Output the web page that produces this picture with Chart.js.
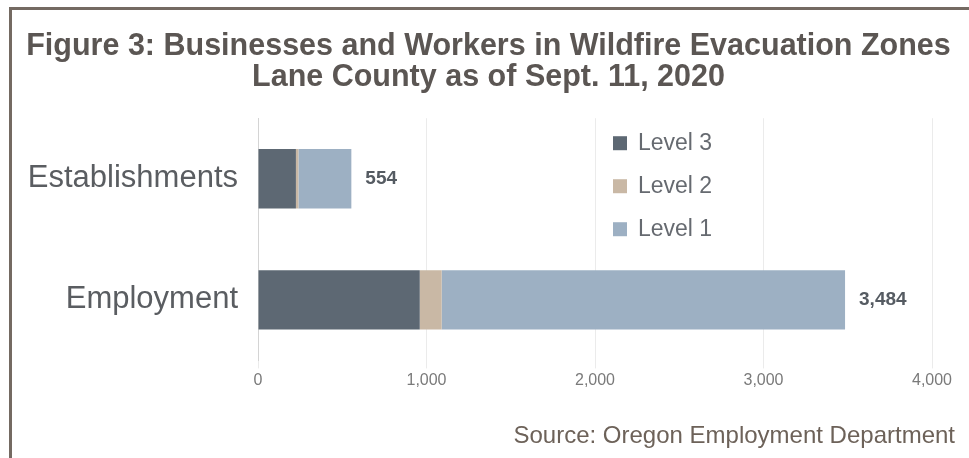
<!DOCTYPE html>
<html>
<head>
<meta charset="utf-8">
<script src="https://cdn.jsdelivr.net/npm/chart.js@4"></script>
<style>
  body { margin: 0; background: #fff; }
  #wrap { position: relative; width: 969px; height: 458px; }
  #frame {
    position: absolute; left: 9px; top: 7px; right: 0; bottom: 0;
    border-top: 3px solid #746a62; border-left: 3px solid #746a62;
    pointer-events: none;
  }
</style>
</head>
<body>
<div id="wrap">
  <canvas id="evacChart" width="969" height="458"></canvas>
  <div id="frame"></div>
</div>
<script>
  const categories = ["Establishments", "Employment"];
  const level3 = [225, 960];
  const level2 = [15, 130];
  const level1 = [314, 2394];
  const xTicks = [0, 1000, 2000, 3000, 4000];

  const FONT = "'Liberation Sans', Arial, sans-serif";

  // total at the end of each stacked bar
  const totalLabels = {
    id: "totalLabels",
    afterDatasetsDraw(chart) {
      const ctx = chart.ctx;
      const last = chart.getDatasetMeta(chart.data.datasets.length - 1);
      ctx.save();
      ctx.font = "bold 19px " + FONT;
      ctx.fillStyle = "#555b62";
      ctx.textAlign = "left";
      ctx.textBaseline = "middle";
      categories.forEach((c, i) => {
        const total = chart.data.datasets.reduce((s, d) => s + d.data[i], 0);
        const bar = last.data[i];
        ctx.fillText(total.toLocaleString("en-US"), bar.x + 14, bar.y);
      });
      ctx.restore();
    },
  };

  // legend sits inside the plot, stacked vertically
  const innerLegend = {
    id: "innerLegend",
    afterDraw(chart) {
      const ctx = chart.ctx;
      const area = chart.chartArea;
      const x = area.left + 355;
      let y = area.top + 25;
      ctx.save();
      ctx.font = "23px " + FONT;
      ctx.textBaseline = "middle";
      chart.data.datasets.forEach((d) => {
        ctx.fillStyle = d.backgroundColor;
        ctx.fillRect(x, y - 7, 14, 14);
        ctx.fillStyle = "#666a70";
        ctx.fillText(d.label, x + 25, y);
        y += 43;
      });
      ctx.restore();
    },
  };

  const ctx = document.getElementById("evacChart").getContext("2d");
  new Chart(ctx, {
    type: "bar",
    data: {
      labels: categories,
      datasets: [
        { label: "Level 3", data: level3, backgroundColor: "#5d6873" },
        { label: "Level 2", data: level2, backgroundColor: "#c9b8a5" },
        { label: "Level 1", data: level1, backgroundColor: "#9db0c3" },
      ],
    },
    options: {
      indexAxis: "y",
      responsive: false,
      animation: false,
      layout: { padding: { left: 22, right: 14, top: 0, bottom: 0 } },
      datasets: {
        bar: { categoryPercentage: 0.5, barPercentage: 0.98 },
      },
      scales: {
        x: {
          stacked: true,
          min: 0,
          max: 4000,
          afterBuildTicks(scale) {
            scale.ticks = xTicks.map((v) => ({ value: v }));
          },
          afterFit(scale) {
            scale.paddingRight = 37;
          },
          ticks: {
            font: { family: FONT, size: 16 },
            color: "#7a7a7a",
            padding: 3,
            callback: (v) => v.toLocaleString("en-US"),
          },
          grid: { color: "#ebebeb", tickLength: 8 },
          border: { display: false },
        },
        y: {
          stacked: true,
          afterFit(scale) {
            scale.width = 236;
          },
          ticks: {
            font: { family: FONT, size: 31 },
            color: "#5a5d61",
            padding: 20,
          },
          grid: { display: false, drawTicks: false },
          border: { display: true, color: "#d4d4d4", width: 1 },
        },
      },
      plugins: {
        legend: { display: false },
        tooltip: { enabled: false },
        title: {
          display: true,
          text: [
            "Figure 3: Businesses and Workers in Wildfire Evacuation Zones",
            "Lane County as of Sept. 11, 2020",
          ],
          font: { family: FONT, size: 30.5, weight: "bold", lineHeight: 1.02 },
          color: "#5b5653",
          padding: { top: 31, bottom: 25 },
        },
        subtitle: {
          display: true,
          position: "bottom",
          align: "end",
          text: "Source: Oregon Employment Department",
          font: { family: FONT, size: 24, lineHeight: 1.1 },
          color: "#6d6259",
          padding: { top: 30, bottom: 8 },
        },
      },
    },
    plugins: [totalLabels, innerLegend],
  });
</script>
</body>
</html>
